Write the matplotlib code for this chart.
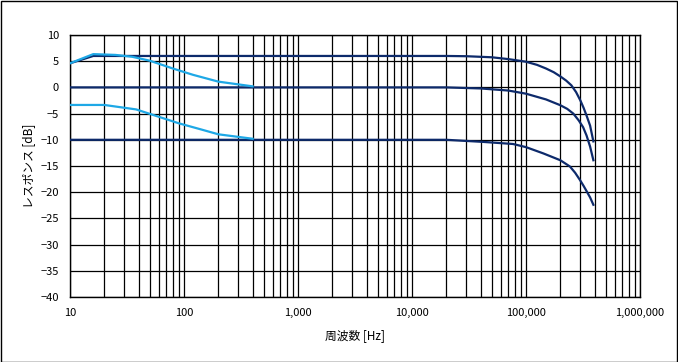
import matplotlib
matplotlib.use("Agg")
import matplotlib.pyplot as plt
from matplotlib.ticker import FixedLocator, FuncFormatter, LogLocator, NullFormatter
from matplotlib.patches import Rectangle

plt.rcParams['font.family'] = ['Noto Sans CJK JP', 'DejaVu Sans']

# Navy curves (frequency response)
navy_top_f = [10, 16, 20, 1000, 20000, 30000, 50000, 70000, 100000, 125000, 150000, 175000, 200000,
              225000, 250000, 275000, 300000, 320000, 340000, 365000, 390000]
navy_top_v = [4.6, 6.0, 6.0, 6.0, 6.0, 5.95, 5.75, 5.4, 4.9, 4.3, 3.6, 2.9, 2.1,
              1.3, 0.4, -0.9, -2.5, -3.9, -5.4, -7.3, -10.3]

navy_mid_f = [10, 1000, 20000, 40000, 70000, 100000, 150000, 200000, 230000, 260000, 290000,
              317000, 340000, 365000, 390000]
navy_mid_v = [0.0, 0.0, 0.0, -0.2, -0.6, -1.2, -2.3, -3.4, -4.1, -5.0, -6.3,
              -7.6, -9.2, -11.3, -13.9]

navy_bot_f = [10, 1000, 20000, 42000, 77000, 100000, 142000, 200000, 243000, 270000, 298000,
              320000, 340000, 365000, 390000]
navy_bot_v = [-10.0, -10.0, -10.0, -10.4, -10.8, -11.4, -12.6, -13.9, -15.1, -16.3, -17.7,
              -18.8, -19.8, -21.0, -22.4]

# Light blue curves
blue_top_f = [10, 16, 25, 35, 50, 80, 120, 200, 400]
blue_top_v = [4.6, 6.35, 6.2, 5.85, 5.1, 3.6, 2.4, 1.1, 0.2]

blue_bot_f = [10, 20, 38, 60, 90, 140, 200, 400]
blue_bot_v = [-3.35, -3.35, -4.2, -5.6, -6.85, -8.0, -8.95, -9.8]

x_ticks = [10, 100, 1000, 10000, 100000, 1000000]
y_ticks = list(range(-40, 11, 5))

navy = '#0d2a6b'
light = '#1ea8e6'

fig = plt.figure(figsize=(6.78, 3.62), dpi=100)
ax = fig.add_axes([70/678, 65/362, 570/678, 262/362])

ax.plot(navy_top_f, navy_top_v, color=navy, lw=1.6, zorder=3)
ax.plot(navy_mid_f, navy_mid_v, color=navy, lw=1.6, zorder=3)
ax.plot(navy_bot_f, navy_bot_v, color=navy, lw=1.6, zorder=3)
ax.plot(blue_top_f, blue_top_v, color=light, lw=1.6, zorder=4)
ax.plot(blue_bot_f, blue_bot_v, color=light, lw=1.6, zorder=4)

ax.set_xscale('log')
ax.set_xlim(10, 1000000)
ax.set_ylim(-40, 10)
ax.xaxis.set_major_locator(FixedLocator(x_ticks))
ax.xaxis.set_minor_locator(LogLocator(base=10, subs=range(2, 10), numticks=20))
ax.xaxis.set_minor_formatter(NullFormatter())
ax.xaxis.set_major_formatter(FuncFormatter(lambda v, p: f"{int(round(v)):,}"))
ax.set_yticks(y_ticks)
ax.yaxis.set_major_formatter(FuncFormatter(lambda v, p: f"{int(v)}".replace('-', '\u2212')))

ax.grid(True, which='major', color='black', lw=0.9)
ax.grid(True, which='minor', axis='x', color='black', lw=0.9)
ax.set_axisbelow(True)
ax.tick_params(which='both', length=0, labelsize=8, pad=8)
for s in ax.spines.values():
    s.set_color('black')
    s.set_linewidth(1.0)

ax.set_xlabel('周波数 [Hz]', fontsize=8.5, labelpad=8)
ax.set_ylabel('レスポンス [dB]', fontsize=8.5, labelpad=4)

fig.patches.append(Rectangle((0.5/678, 0.5/362), 676.5/678, 360.5/362, transform=fig.transFigure,
                             fill=False, edgecolor='black', lw=1.0))

fig.savefig('out.png', dpi=100)
